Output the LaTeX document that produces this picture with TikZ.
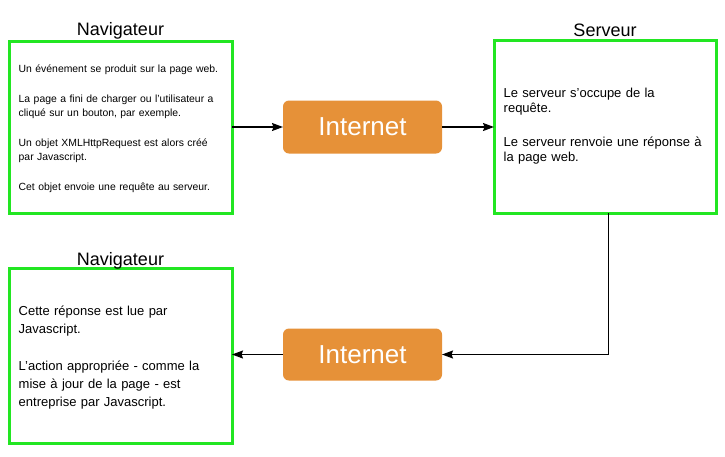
\documentclass[tikz,border=0pt]{standalone}
\usepackage{fontspec}
\setmainfont{Liberation Sans}
\usetikzlibrary{arrows.meta}
\definecolor{boxgreen}{RGB}{34,230,34}
\definecolor{netorange}{RGB}{230,145,56}
\tikzset{
  greenbox/.style={draw=boxgreen, line width=3pt, fill=white, inner sep=0pt, outer sep=0pt},
  boxtext/.style={anchor=base west, inner sep=0pt, text width=215pt, align=left},
  netbox/.style={fill=netorange, rounded corners=6pt, minimum width=159pt, minimum height=53pt,
    text=white, font=\fontsize{26}{30}\selectfont, outer sep=0pt},
  title/.style={anchor=base, font=\fontsize{18}{21}\selectfont},
  conn/.style={line width=1.4pt, -{Stealth[length=11pt,width=8pt,inset=1.5pt]}},
}
\begin{document}
\begin{tikzpicture}[x=1pt,y=-1pt]
\useasboundingbox (0,0) rectangle (725,456);
% boxes
\node[greenbox, minimum width=223pt, minimum height=172pt] (b1) at (120.5,127) {};
\node[greenbox, minimum width=222pt, minimum height=172.5pt] (b2) at (605,127) {};
\node[greenbox, minimum width=223pt, minimum height=175pt] (b3) at (120.5,355.5) {};
% titles
\node[title] (t1) at (120.5,35.5) {Navigateur};
\node[title] (t2) at (605,36.5) {Serveur};
\node[title] (t3) at (120.5,265.5) {Navigateur};
% texts
\node[boxtext, font=\fontsize{10.4}{14}\selectfont] (x1) at (18.5,72.3)
  {Un événement se produit sur la page web.\\[16pt]
   La page a fini de charger ou l’utilisateur a\\
   cliqué sur un bouton, par exemple.\\[16pt]
   Un objet XMLHttpRequest est alors créé\\
   par Javascript.\\[16pt]
   Cet objet envoie une requête au serveur.};
\node[boxtext, font=\fontsize{13}{15.6}\selectfont] (x2) at (503.5,97)
  {Le serveur s’occupe de la\\
   requête.\\[18pt]
   Le serveur renvoie une réponse à\\
   la page web.};
\node[boxtext, font=\fontsize{13}{18}\selectfont] (x3) at (18.5,315.4)
  {Cette réponse est lue par\\
   Javascript.\\[19pt]
   L’action appropriée - comme la\\
   mise à jour de la page - est\\
   entreprise par Javascript.};
% internet
\node[netbox] (i1) at (362.5,127) {Internet};
\node[netbox, minimum height=52pt] (i2) at (362.5,354.5) {Internet};
% connectors
\draw[conn] (b1.east |- i1.west) -- (i1.west);
\draw[conn] (i1.east) -- (b2.west |- i1.east);
\draw[conn] ([xshift=3.3pt]b2.south) |- (i2.east);
\draw[conn] (i2.west) -- (b3.east |- i2.west);
\end{tikzpicture}
\end{document}
